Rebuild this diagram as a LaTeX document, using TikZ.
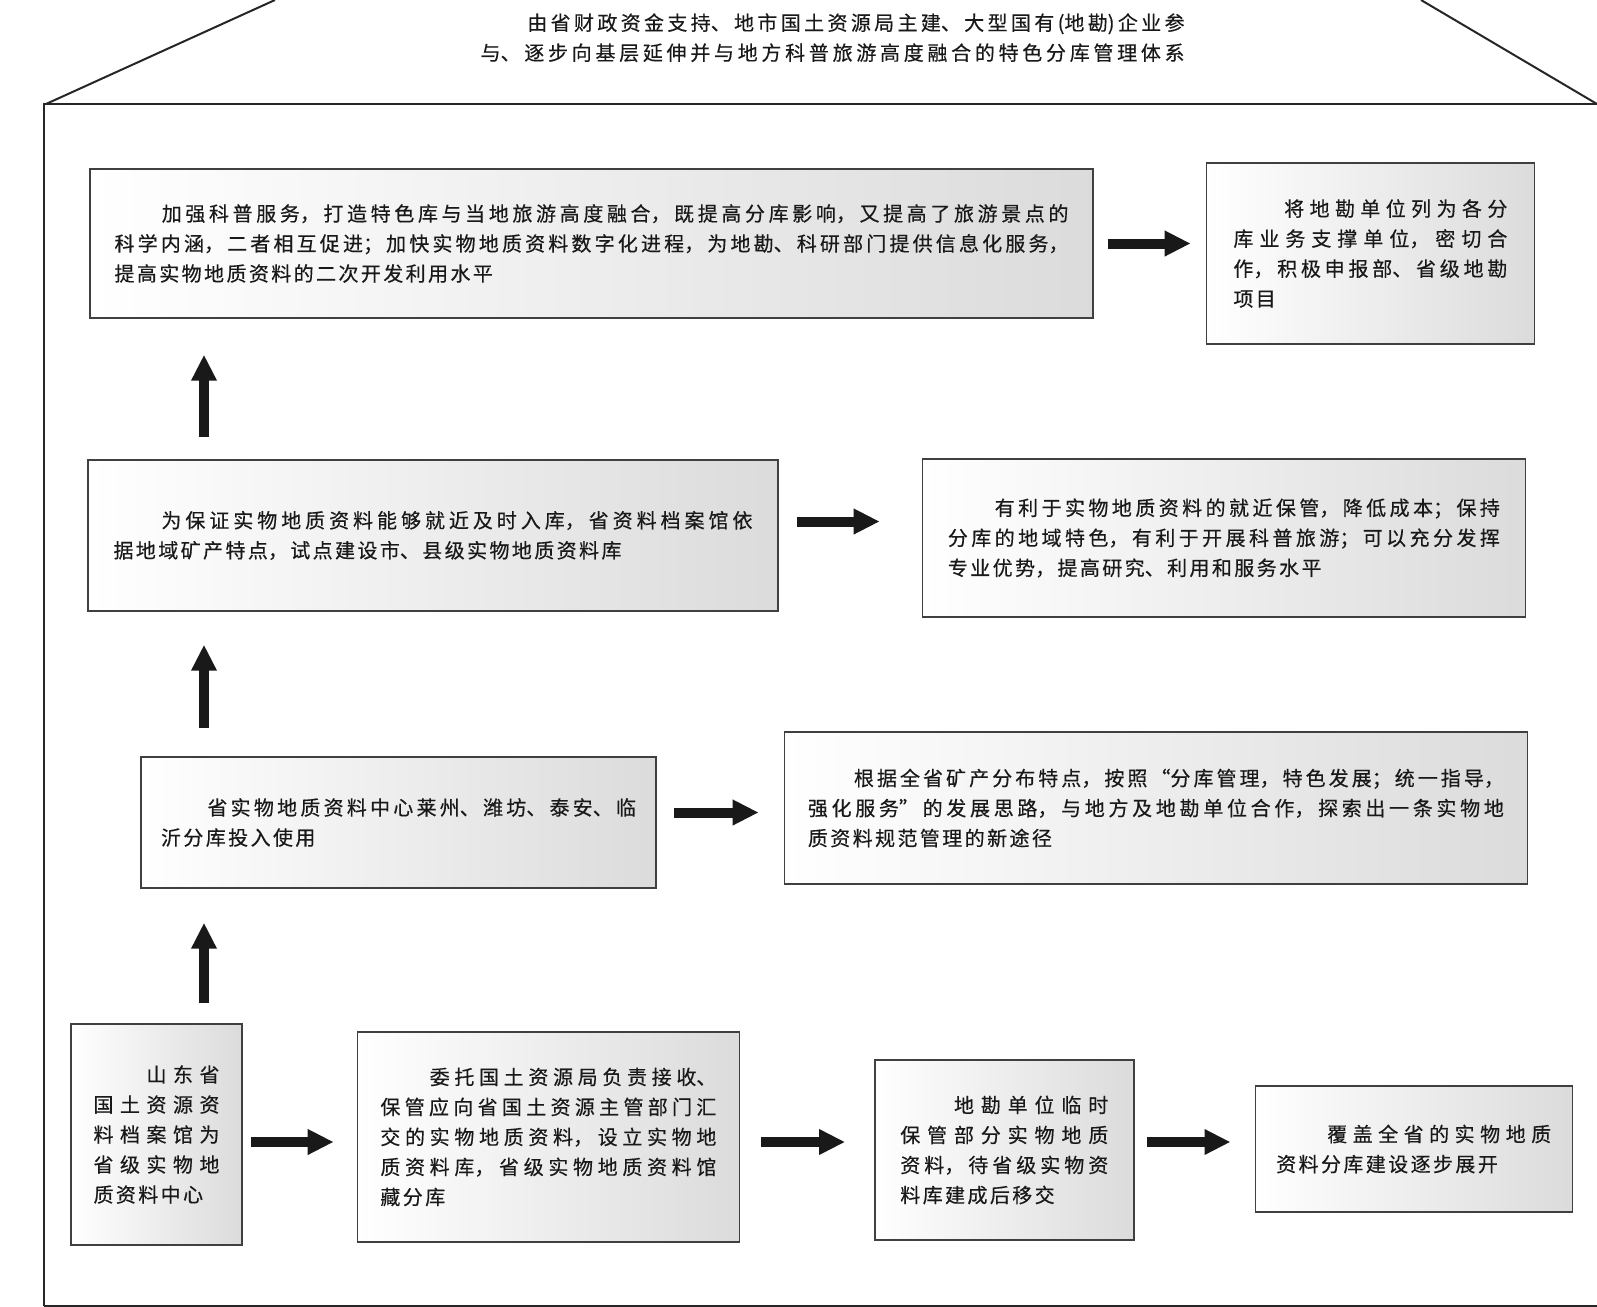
\documentclass[tikz,border=0pt]{standalone}
\usepackage{fontspec}
\setmainfont{Noto Sans CJK SC}[FakeBold=0.4]
\usepackage{tikz}
\usetikzlibrary{arrows.meta,positioning}
\XeTeXlinebreaklocale "zh"
\XeTeXlinebreakskip=1.2pt plus 4pt minus 0.3pt
\newcommand\cnfont{\fontsize{10pt}{15pt}\selectfont}
\newcommand\ind{\hspace*{\glueexpr\XeTeXlinebreakskip*2+2em\relax}}
\tikzset{
  box/.style  ={rectangle, draw=black!75, line width=0.7pt, left color=white,
                right color=black!14, inner sep=0pt, align=justify,
                font=\cnfont, text=black!90},
  arr/.style  ={-{Triangle[length=13pt,width=12pt]}, line width=5pt, draw=black!90},
  wall/.style ={line width=1pt, draw=black!85},
  heading/.style={inner sep=0pt, align=justify, font=\cnfont, text=black!90,
                text width=352pt},
}

\begin{document}
\begin{tikzpicture}[x=0.5pt, y=-0.5pt]
\useasboundingbox (0,0) rectangle (1597,1307);
\draw[wall] (44,1306) -- (44,104) -- (1597,104);
\draw[wall] (44,1306) -- (1597,1306);
\draw[wall] (46,104) -- (275,0);
\draw[wall] (1421,0) -- (1597,104);

\node[heading] (ttl) at (832.6,37.7) {\ind 由省财政资金支持、地市国土资源局主建、大型国有(地勘)企业参\linebreak 与、逐步向基层延伸并与地方科普旅游高度融合的特色分库管理体系\parfillskip=0pt\par};

\node[box, minimum width=501.5pt, minimum height=74.5pt, text width=477pt] (t1) at (591.5,243.5)
  {\ind 加强科普服务，打造特色库与当地旅游高度融合，既提高分库影响，又提高了旅游景点的\linebreak 科学内涵，二者相互促进；加快实物地质资料数字化进程，为地勘、科研部门提供信息化服务，\linebreak 提高实物地质资料的二次开发利用水平};
\node[box, minimum width=164pt, minimum height=90.5pt, text width=137pt, right=56pt of t1, yshift=-5pt] (r1)
  {\ind 将地勘单位列为各分\linebreak 库业务支撑单位，密切合\linebreak 作，积极申报部、省级地勘\linebreak 项目};

\node[box, minimum width=345pt, minimum height=75.5pt, text width=319.5pt] (l2) at (433,535.5)
  {\ind 为保证实物地质资料能够就近及时入库，省资料档案馆依\linebreak 据地域矿产特点，试点建设市、县级实物地质资料库};
\node[box, minimum width=301.5pt, minimum height=79pt, text width=276pt, right=71.5pt of l2, yshift=-1.25pt] (r2)
  {\ind 有利于实物地质资料的就近保管，降低成本；保持\linebreak 分库的地域特色，有利于开展科普旅游；可以充分发挥\linebreak 专业优势，提高研究、利用和服务水平};

\node[box, minimum width=257.5pt, minimum height=65.5pt, text width=237.5pt] (l3) at (398.5,822.5)
  {\ind 省实物地质资料中心莱州、潍坊、泰安、临\linebreak 沂分库投入使用};
\node[box, minimum width=371.5pt, minimum height=76pt, text width=348pt, right=63.5pt of l3, yshift=7.25pt] (r3)
  {\ind 根据全省矿产分布特点，按照“分库管理，特色发展；统一指导，\linebreak 强化服务”的发展思路，与地方及地勘单位合作，探索出一条实物地\linebreak 质资料规范管理的新途径};

\node[box, minimum width=85.5pt, minimum height=110.5pt, text width=63pt] (b1) at (156.5,1134.5)
  {\ind 山东省\linebreak 国土资源资\linebreak 料档案馆为\linebreak 省级实物地\linebreak 质资料中心};
\node[box, minimum width=191pt, minimum height=105pt, text width=168pt, right=57pt of b1, yshift=-1.25pt] (b2)
  {\ind 委托国土资源局负责接收、\linebreak 保管应向省国土资源主管部门汇\linebreak 交的实物地质资料，设立实物地\linebreak 质资料库，省级实物地质资料馆\linebreak 藏分库};
\node[box, minimum width=129.5pt, minimum height=90pt, text width=104pt, right=67pt of b2, yshift=-6.5pt] (b3)
  {\ind 地勘单位临时\linebreak 保管部分实物地质\linebreak 资料，待省级实物资\linebreak 料库建成后移交};
\node[box, minimum width=158.5pt, minimum height=63pt, text width=137.5pt, right=60pt of b3, yshift=0.5pt] (b4)
  {\ind 覆盖全省的实物地质\linebreak 资料分库建设逐步展开};

\coordinate (ax) at (204,0);
\draw[arr, shorten <=7pt, shorten >=7.5pt] (t1.east) -- (t1.east -| r1.west);
\draw[arr, shorten <=9pt, shorten >=21pt] ([yshift=7pt]l2.east) -- ([yshift=7pt]l2.east -| r2.west);
\draw[arr, shorten <=8.5pt, shorten >=12.5pt] ([yshift=5pt]l3.east) -- ([yshift=5pt]l3.east -| r3.west);
\draw[arr, shorten <=4pt, shorten >=11.5pt] ([yshift=-3.75pt]b1.east) -- ([yshift=-3.75pt]b1.east -| b2.west);
\draw[arr, shorten <=10.5pt, shorten >=14.5pt] ([yshift=-2.5pt]b2.east) -- ([yshift=-2.5pt]b2.east -| b3.west);
\draw[arr, shorten <=6pt, shorten >=12pt] ([yshift=4pt]b3.east) -- ([yshift=4pt]b3.east -| b4.west);
\draw[arr, shorten <=10pt, shorten >=17pt] (b1.north -| ax) -- (l3.south -| ax);
\draw[arr, shorten <=14pt, shorten >=16.5pt] (l3.north -| ax) -- (l2.south -| ax);
\draw[arr, shorten <=11pt, shorten >=18pt] (l2.north -| ax) -- (t1.south -| ax);
\end{tikzpicture}
\end{document}
